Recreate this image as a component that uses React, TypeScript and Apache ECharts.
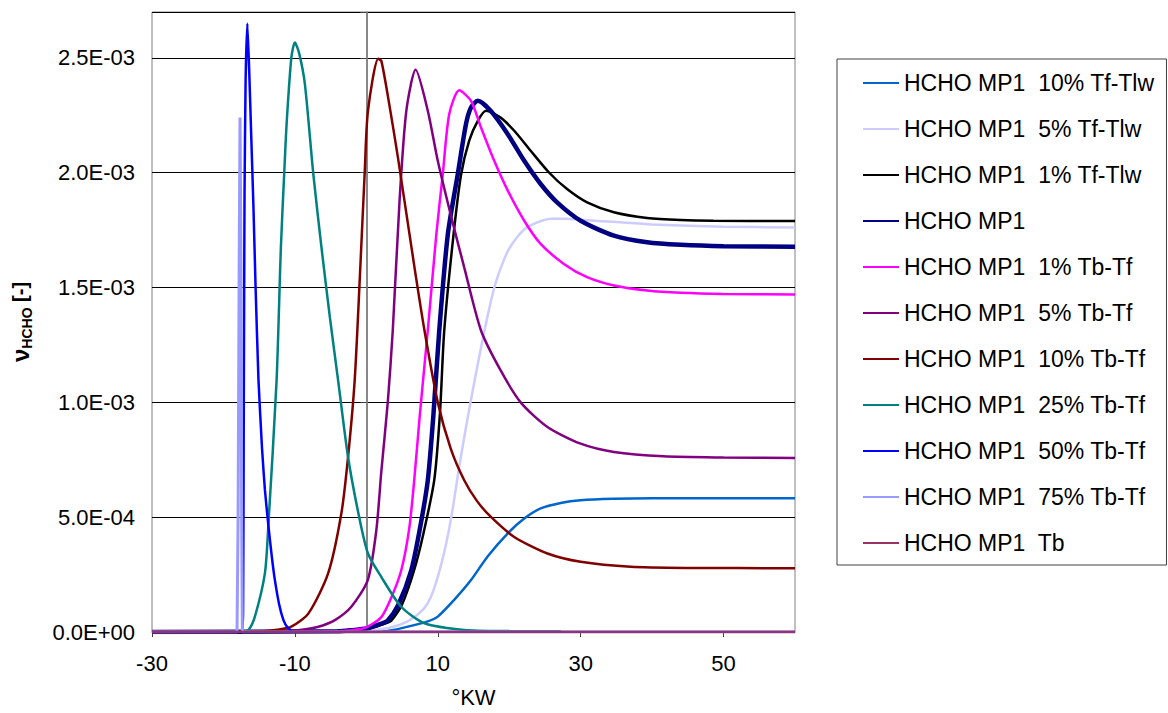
import React, { useEffect, useRef } from "react";
import * as echarts from "echarts";

// x: crank angle (°KW); y: values in units of 1e-3
const UNIT = 1e-3;

const SERIES_NAMES = [
  "HCHO MP1  10% Tf-Tlw",
  "HCHO MP1  5% Tf-Tlw",
  "HCHO MP1  1% Tf-Tlw",
  "HCHO MP1",
  "HCHO MP1  1% Tb-Tf",
  "HCHO MP1  5% Tb-Tf",
  "HCHO MP1  10% Tb-Tf",
  "HCHO MP1  25% Tb-Tf",
  "HCHO MP1  50% Tb-Tf",
  "HCHO MP1  75% Tb-Tf",
  "HCHO MP1  Tb",
];

const TF10: number[][] = [
  [-30, 0], [0, 0], [2, 0.001], [4, 0.01], [6.7, 0.03], [8.5, 0.045], [10, 0.067], [12.3, 0.14],
  [14.65, 0.226], [17, 0.33], [19.8, 0.43], [22.1, 0.494], [24.4, 0.538], [27.2, 0.562],
  [30, 0.574], [34.6, 0.58], [40, 0.582], [50, 0.582], [60, 0.582],
];

const TF5: number[][] = [
  [-30, 0], [-4, 0], [0, 0.005], [2, 0.012], [4, 0.025], [6, 0.05], [8, 0.1], [9, 0.15],
  [10, 0.24], [11, 0.36], [12, 0.52], [13, 0.72], [14, 0.9], [15, 1.07], [16, 1.23],
  [17, 1.38], [18, 1.51], [19, 1.6], [20, 1.67], [22, 1.75], [24, 1.785], [26, 1.8],
  [28, 1.8], [30, 1.795], [35, 1.785], [40, 1.775], [50, 1.765], [60, 1.762],
];

const TF1: number[][] = [
  [-30, 0], [-4, 0.002], [-2, 0.006], [0, 0.012], [2, 0.03], [3.5, 0.05], [5, 0.12],
  [6.7, 0.27], [8, 0.43], [9.5, 0.66], [10.3, 0.95], [10.9, 1.31], [12.1, 1.7],
  [13.25, 1.99], [14.4, 2.14], [15.6, 2.226], [16.75, 2.27], [18.8, 2.24], [20.7, 2.183],
  [23, 2.096], [25.6, 2.0], [28.1, 1.929], [30.9, 1.871], [34.65, 1.828], [39.3, 1.803],
  [44, 1.794], [48.6, 1.791], [60, 1.79],
];

const BASE: number[][] = [
  [-30, 0], [-4, 0.003], [-2, 0.008], [0, 0.015], [2, 0.035], [3, 0.05], [4.5, 0.12],
  [6.3, 0.27], [7.5, 0.45], [8.6, 0.66], [9.4, 0.95], [10.2, 1.31], [11.4, 1.73],
  [12.8, 1.994], [13.95, 2.212], [14.65, 2.284], [15.6, 2.313], [17.4, 2.27], [19.8, 2.168],
  [22.1, 2.052], [24.4, 1.951], [26.7, 1.871], [30, 1.791], [34.65, 1.726], [39.3, 1.697],
  [44, 1.686], [50, 1.68], [60, 1.678],
];

const TB1: number[][] = [
  [-30, 0], [-6, 0.002], [-2, 0.008], [0, 0.02], [2.1, 0.065], [3.5, 0.15], [4.9, 0.27],
  [6, 0.45], [6.7, 0.66], [7.5, 0.95], [8.6, 1.313], [9.8, 1.733], [10.7, 1.994],
  [11.6, 2.255], [13, 2.359], [14.65, 2.313], [16.05, 2.197], [17.9, 2.052], [19.8, 1.922],
  [22.1, 1.791], [24.4, 1.69], [27.65, 1.603], [30.9, 1.545], [34.65, 1.509], [39.3, 1.487],
  [44, 1.477], [50, 1.472], [60, 1.47],
];

const TB5: number[][] = [
  [-30, 0], [-12, 0.002], [-9, 0.01], [-6.7, 0.023], [-4.4, 0.052], [-2.1, 0.11], [0.2, 0.226],
  [1.4, 0.443], [2.1, 0.7], [3, 1.0], [3.7, 1.313], [4.65, 1.878], [5.6, 2.27], [6.9, 2.448],
  [8.6, 2.27], [10, 2.052], [11.9, 1.806], [13.7, 1.588], [16.05, 1.313], [18.8, 1.139],
  [21.6, 1.0], [25.35, 0.893], [30, 0.82], [34.65, 0.784], [41.6, 0.765], [50, 0.76], [60, 0.758],
];

const TB10: number[][] = [
  [-30, 0], [-15, 0.002], [-12.5, 0.01], [-10.5, 0.023], [-8.1, 0.081], [-5.35, 0.255],
  [-3.5, 0.516], [-2.56, 0.762], [-1.63, 1.096], [-0.9, 1.55], [-0.23, 2.0], [0.23, 2.27],
  [1.67, 2.496], [2.1, 2.487], [3.2, 2.3], [4.42, 2.067], [6.74, 1.588], [8.14, 1.313],
  [10, 1.0], [11.8, 0.8], [13.7, 0.661], [15.5, 0.57], [17.44, 0.501], [20.7, 0.414],
  [25.35, 0.342], [30, 0.306], [37, 0.284], [45, 0.279], [60, 0.278],
];

const TB25: number[][] = [
  [-30, 0], [-17.5, 0], [-16.5, 0.009], [-15.6, 0.067], [-14.2, 0.255], [-13.7, 0.473],
  [-12.56, 1.096], [-11.96, 1.675], [-11.49, 2.0], [-11.16, 2.212], [-10.5, 2.5],
  [-10, 2.567], [-9.4, 2.52], [-8.6, 2.386], [-7.44, 2.0], [-6.28, 1.675], [-5.1, 1.37],
  [-3.95, 1.096], [-2.56, 0.762], [-1, 0.5], [0.23, 0.342], [2.09, 0.24], [4.88, 0.11],
  [8.14, 0.038], [13.7, 0.009], [20, 0.004], [27.2, 0.003],
];

const TB50: number[][] = [
  [-30, 0], [-17.45, 0], [-17.25, 0.1], [-17.15, 1.0], [-17.05, 1.9], [-16.9, 2.4],
  [-16.65, 2.65], [-16.4, 2.45], [-16.1, 2.15], [-15.8, 1.85], [-15.5, 1.5], [-15.1, 1.1],
  [-14.6, 0.8], [-14.2, 0.62], [-13.7, 0.46], [-13.2, 0.32], [-12.8, 0.226], [-12.2, 0.12],
  [-11.6, 0.052], [-11, 0.018], [-10.5, 0.006], [-10, 0], [60, 0],
];

const TB75: number[][] = [
  [-30, 0], [-18.1, 0], [-17.95, 0.5], [-17.8, 1.6], [-17.68, 2.24], [-17.55, 1.6],
  [-17.45, 0.5], [-17.35, 0], [60, 0],
];

const TB: number[][] = [
  [-30, 0], [60, 0],
];

const SERIES_DATA = [TF10, TF5, TF1, BASE, TB1, TB5, TB10, TB25, TB50, TB75, TB];
const COLORS = [
  "#0066CC", "#CCCCFF", "#000000", "#000080", "#FF00FF",
  "#800080", "#800000", "#008080", "#0000FF", "#9999FF", "#993366",
];
const WIDTHS = [2.5, 2.5, 2.5, 4.5, 2.5, 2.5, 2.5, 2.5, 2.5, 3, 2.5];
const SMOOTH = [0.25, 0.25, 0.25, 0.25, 0.25, 0.25, 0.25, 0.25, 0.15, 0, 0];

const X_MIN = -30;
const X_MAX = 60;
const X_STEP = 20;
const Y_MIN = 0;
const Y_MAX = 2.7e-3;
const Y_STEP = 0.5e-3;

const FONT = "'Liberation Sans', Arial, sans-serif";

function fmtY(v: number): string {
  if (Math.abs(v) < 1e-12) return "0.0E+00";
  const s = v.toExponential(1);
  const [m, e] = s.split("e");
  const n = parseInt(e, 10);
  return m + "E" + (n < 0 ? "-" : "+") + String(Math.abs(n)).padStart(2, "0");
}

export default function App() {
  const ref = useRef<HTMLDivElement>(null);
  useEffect(() => {
    if (!ref.current) return;
    const chart = echarts.init(ref.current, undefined, { renderer: "svg" });
    const series: any[] = SERIES_NAMES.map((name, i) => ({
      name,
      type: "line",
      data: SERIES_DATA[i].map(([x, y]) => [x, y * UNIT]),
      symbol: "none",
      smooth: SMOOTH[i],
      lineStyle: { color: COLORS[i], width: WIDTHS[i] },
      itemStyle: { color: COLORS[i] },
      z: 2 + i,
    }));
    series[0].markLine = {
      silent: true,
      symbol: "none",
      label: { show: false },
      lineStyle: { color: "#808080", width: 1.5, type: "solid" },
      data: [{ xAxis: 0 }],
      z: 1,
    };
    chart.setOption({
      animation: false,
      backgroundColor: "#ffffff",
      textStyle: { fontFamily: FONT },
      grid: {
        left: 150,
        right: 373,
        top: 12,
        bottom: 81,
        show: true,
        borderColor: "#808080",
        borderWidth: 1,
        containLabel: false,
      },
      legend: {
        orient: "vertical",
        left: 837,
        top: 59,
        data: SERIES_NAMES,
        itemWidth: 36,
        itemHeight: 14,
        itemGap: 22,
        padding: [12, 12, 10, 25],
        borderColor: "#404040",
        borderWidth: 1,
        backgroundColor: "#ffffff",
        itemStyle: { color: "transparent", borderColor: "transparent", borderWidth: 0, opacity: 0 },
        textStyle: { fontSize: 23, color: "#000", fontFamily: FONT, lineHeight: 24 },
      },
      xAxis: {
        type: "value",
        min: X_MIN,
        max: X_MAX,
        interval: X_STEP,
        axisLine: { show: true, onZero: false, lineStyle: { color: "#808080", width: 1 } },
        axisTick: { show: true, length: 5, lineStyle: { color: "#404040" } },
        splitLine: { show: false },
        axisLabel: { fontSize: 22, color: "#000", margin: 20, showMaxLabel: false, fontFamily: FONT },
        name: "°KW",
        nameLocation: "middle",
        nameGap: 54,
        nameTextStyle: { fontSize: 22, color: "#000", fontFamily: FONT },
      },
      yAxis: [
        {
          type: "value",
          min: Y_MIN,
          max: Y_MAX,
          interval: Y_STEP,
          axisLine: { show: true, onZero: true, lineStyle: { color: "#808080", width: 1.5 } },
          axisTick: { show: true, length: 6, lineStyle: { color: "#404040" } },
          axisLabel: { show: false },
          splitLine: { show: true, lineStyle: { color: "#000", width: 1 } },
          z: 1,
        },
        {
          type: "value",
          min: Y_MIN,
          max: Y_MAX,
          interval: Y_STEP,
          position: "left",
          axisLine: { show: false, onZero: false },
          axisTick: { show: false },
          splitLine: { show: false },
          axisLabel: {
            fontSize: 22,
            color: "#000",
            margin: 17,
            showMaxLabel: false,
            fontFamily: FONT,
            formatter: (v: number) => fmtY(v),
          },
          name: "{a|ν}{b|HCHO}{c| [-]}",
          nameLocation: "middle",
          nameRotate: 90,
          nameGap: 118,
          nameTextStyle: {
            fontFamily: FONT,
            color: "#000",
            rich: {
              a: { fontSize: 24, fontWeight: "bold", fontFamily: FONT, lineHeight: 28, verticalAlign: "middle" },
              b: { fontSize: 14, fontWeight: "bold", fontFamily: FONT, lineHeight: 28, verticalAlign: "bottom", padding: [8, 0, 0, 0] },
              c: { fontSize: 20, fontWeight: "bold", fontFamily: FONT, lineHeight: 28, verticalAlign: "middle" },
            },
          },
        },
      ],
      series,
    });
    return () => chart.dispose();
  }, []);
  return (
    <div
      ref={ref}
      style={{ position: "absolute", left: 0, top: 0, width: 1168, height: 713, background: "#fff" }}
    />
  );
}
